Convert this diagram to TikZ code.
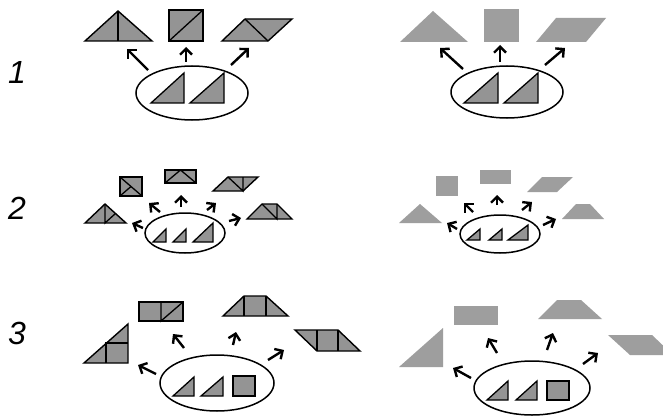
\documentclass[tikz,border=0pt]{standalone}
\usepackage{fontspec}
\setsansfont{Liberation Sans}
\usetikzlibrary{arrows.meta,shapes.geometric}
\tikzset{
  pc/.style={draw, fill=black!42, line width=1.4pt, line join=miter},
  pcl/.style={fill=black!38},
  tri/.style={draw, fill=black!42, line width=1.3pt},
  cut/.style={line width=1.3pt},
  rim/.style={draw, ellipse, line width=1.5pt, inner sep=0pt},
  arr/.style={-{Straight Barb[length=6pt, width=12pt, line width=2.4pt]}, line width=2.4pt},
  num/.style={font=\fontsize{32}{32}\selectfont\sffamily\itshape},
}

\begin{document}
\begin{tikzpicture}[x=1pt, y=-1pt]

\clip (0,0) rectangle (663,417);
\fill[white] (0,0) rectangle (663,417);

% Row labels
\node[num] (n1) at (17,72) {1};
\node[num] (n2) at (17,208) {2};
\node[num] (n3) at (17,333) {3};

% ---------- Row 1, left ----------
\draw[pc] (85,41) -- (118,11) -- (152,41) -- cycle;
\draw[cut] (118,11) -- (118,41);
\draw[pc] (169,10) rectangle (203,41);
\draw[cut] (169,41) -- (203,10);
\draw[pc] (222,41) -- (245,19) -- (292,19) -- (268,41) -- cycle;
\draw[cut] (245,19) -- (268,41);

\node[rim, minimum width=112, minimum height=54] (e1) at (192,93) {};
\draw[tri] (151,103) -- (184,103) -- (184,73) -- cycle;
\draw[tri] (190,103) -- (224,103) -- (224,73) -- cycle;

\foreach \i/\s/\t in {1/{148,70}/{127,49}, 2/{186,62}/{186,47}, 3/{231,65}/{249,48}} {
  \coordinate (p\i) at (\s);
  \coordinate (q\i) at (\t);
  \draw[arr] (p\i) -- (q\i);
}

% ---------- Row 1, right ----------
\fill[pcl] (400,42) -- (433,11) -- (468,42) -- cycle;
\fill[pcl] (484,9) rectangle (519,42);
\fill[pcl] (536,42) -- (556,18) -- (606,18) -- (586,42) -- cycle;

\node[rim, minimum width=112, minimum height=52] (f1) at (507,92) {};
\draw[tri] (464,103) -- (498,103) -- (498,73) -- cycle;
\draw[tri] (504,103) -- (538,103) -- (538,73) -- cycle;

\foreach \i/\s/\t in {4/{463,69}/{440,48}, 5/{500,62}/{500,45}, 6/{545,65}/{565,48}} {
  \coordinate (p\i) at (\s);
  \coordinate (q\i) at (\t);
  \draw[arr] (p\i) -- (q\i);
}

% ---------- Row 2, left ----------
\draw[pc] (85,223) -- (105,204) -- (126,223) -- cycle;
\draw[cut] (105,204) -- (105,223) -- (115.5,213.5);
\draw[pc] (120,177) rectangle (142,196);
\draw[cut] (120,177) -- (142,196);
\draw[cut] (120,196) -- (131,186.5);
\draw[pc] (165,170) rectangle (196,183);
\draw[cut] (165,183) -- (180.5,170) -- (196,183);
\draw[pc] (213,191) -- (228,177) -- (258,177) -- (243,191) -- cycle;
\draw[cut] (228,177) -- (243,191) -- (243,177);
\draw[pc] (247,219) -- (262,204) -- (277,204) -- (292,219) -- cycle;
\draw[cut] (262,204) -- (277,219) -- (277,204);

\node[rim, minimum width=80, minimum height=40] (e2) at (185,233) {};
\draw[tri] (153,242) -- (166,242) -- (166,229) -- cycle;
\draw[tri] (173,242) -- (186,242) -- (186,229) -- cycle;
\draw[tri] (193,242) -- (213,242) -- (213,223) -- cycle;

\foreach \i/\s/\t in {7/{143,228}/{132,223}, 8/{160,212}/{149,203}, 9/{181,207}/{181,195},
                      10/{207,210}/{216,203}, 11/{229,221}/{241,218}} {
  \coordinate (p\i) at (\s);
  \coordinate (q\i) at (\t);
  \draw[arr] (p\i) -- (q\i);
}

% ---------- Row 2, right ----------
\fill[pcl] (399,223) -- (420,204) -- (442,223) -- cycle;
\fill[pcl] (436,176) rectangle (458,196);
\fill[pcl] (480,170) rectangle (511,184);
\fill[pcl] (527,192) -- (542,177) -- (573,177) -- (557,192) -- cycle;
\fill[pcl] (562,219) -- (576,204) -- (590,204) -- (604,219) -- cycle;

\node[rim, minimum width=80, minimum height=38] (f2) at (500,234) {};
\draw[tri] (467,240) -- (480,240) -- (480,229) -- cycle;
\draw[tri] (489,240) -- (502,240) -- (502,229) -- cycle;
\draw[tri] (508,240) -- (528,240) -- (528,225) -- cycle;

\foreach \i/\s/\t in {12/{457,229}/{447,223}, 13/{473,212}/{464,203}, 14/{497,205}/{497,195},
                      15/{522,210}/{532,202}, 16/{543,225}/{556,219}} {
  \coordinate (p\i) at (\s);
  \coordinate (q\i) at (\t);
  \draw[arr] (p\i) -- (q\i);
}

% ---------- Row 3, left ----------
\draw[pc] (84,363) -- (128,324) -- (128,363) -- cycle;
\draw[cut] (106,363) -- (106,343) -- (128,343);
\draw[pc] (139,302) rectangle (183,321);
\draw[cut] (161,302) -- (161,321) -- (183,302);
\draw[pc] (223,316) -- (244,296) -- (266,296) -- (288,316) -- cycle;
\draw[cut] (244,296) -- (244,316);
\draw[cut] (266,296) -- (266,316);
\draw[pc] (295,330) -- (338,330) -- (360,351) -- (317,351) -- cycle;
\draw[cut] (317,330) -- (317,351);
\draw[cut] (338,330) -- (338,351);

\node[rim, minimum width=114, minimum height=56] (e3) at (217,383) {};
\draw[tri] (173,396) -- (194,396) -- (194,377) -- cycle;
\draw[tri] (201,396) -- (223,396) -- (223,377) -- cycle;
\draw[tri] (233,376) rectangle (255,396);

\foreach \i/\s/\t in {17/{156,374}/{138,365}, 18/{184,348}/{173,334}, 19/{233,345}/{236,332},
                      20/{268,360}/{284,350}} {
  \coordinate (p\i) at (\s);
  \coordinate (q\i) at (\t);
  \draw[arr] (p\i) -- (q\i);
}

% ---------- Row 3, right ----------
\fill[pcl] (399,367) -- (443,328) -- (443,367) -- cycle;
\fill[pcl] (454,306) rectangle (498,325);
\fill[pcl] (538,319) -- (557,300) -- (581,300) -- (602,319) -- cycle;
\fill[pcl] (608,335) -- (652,335) -- (673,355) -- (630,355) -- cycle;

\node[rim, minimum width=116, minimum height=54] (f3) at (532,388) {};
\draw[tri] (487,400) -- (508,400) -- (508,381) -- cycle;
\draw[tri] (516,400) -- (537,400) -- (537,381) -- cycle;
\draw[tri] (547,381) rectangle (569,400);

\foreach \i/\s/\t in {21/{471,378}/{453,368}, 22/{497,353}/{488,338}, 23/{547,350}/{553,333},
                      24/{583,364}/{598,353}} {
  \coordinate (p\i) at (\s);
  \coordinate (q\i) at (\t);
  \draw[arr] (p\i) -- (q\i);
}

\end{tikzpicture}
\end{document}
